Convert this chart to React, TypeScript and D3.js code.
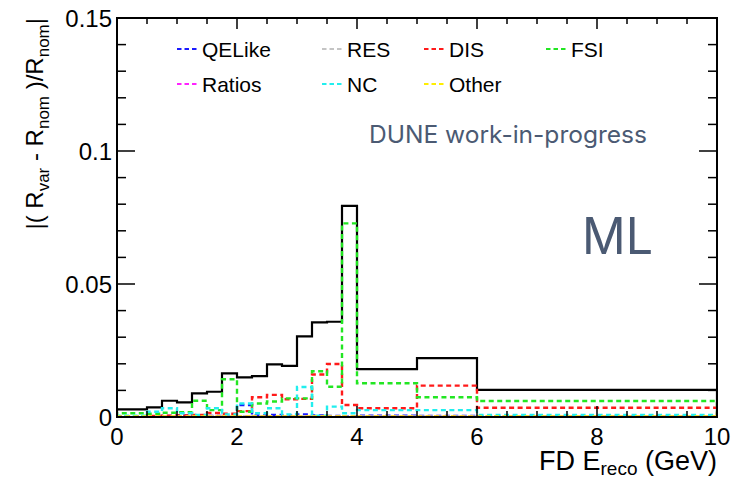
import React from "react";
import * as d3 from "d3";

// Bin edges in reconstructed energy (GeV)
const binEdges = [0, 0.5, 0.75, 1, 1.25, 1.5, 1.75, 2, 2.25, 2.5, 2.75, 3, 3.25, 3.5, 3.75, 4, 5, 6, 10];

// Fractional shift per bin for each interaction-mode category
const totalShift = [0.0029, 0.0036, 0.0061, 0.0055, 0.0089, 0.0095, 0.0164, 0.0149, 0.0154, 0.0198, 0.0192, 0.0303, 0.0356, 0.0358, 0.0794, 0.018, 0.0221, 0.0102];
const qelikeShift = [0.0002, 0.0003, 0.0004, 0.0006, 0.0005, 0.0004, 0.0003, 0.0045, 0.0006, 0.0008, 0.0005, 0.001, 0.0006, 0.0004, 0.0003, 0.0005, 0.0004, 0.0002];
const resShift = [0.0002, 0.0002, 0.0003, 0.0003, 0.0002, 0.0003, 0.0002, 0.0003, 0.0002, 0.0003, 0.0002, 0.0003, 0.0002, 0.0002, 0.0002, 0.0002, 0.0002, 0.0001];
const disShift = [0.0003, 0.0004, 0.0005, 0.0006, 0.0008, 0.0015, 0.0012, 0.0022, 0.0074, 0.0083, 0.0067, 0.0068, 0.016, 0.0199, 0.0045, 0.0033, 0.0118, 0.0035];
const fsiShift = [0.0014, 0.0012, 0.0016, 0.0018, 0.0061, 0.0026, 0.0142, 0.002, 0.0051, 0.0058, 0.007, 0.007, 0.0172, 0.0114, 0.0728, 0.0127, 0.0074, 0.006];
const ratiosShift = [0.0001, 0.0001, 0.0001, 0.0001, 0.0001, 0.0001, 0.0001, 0.0001, 0.0001, 0.0001, 0.0001, 0.0001, 0.0001, 0.0001, 0.0001, 0.0001, 0.0001, 0.0001];
const ncShift = [0.0005, 0.002, 0.0033, 0.0014, 0.0008, 0.0033, 0.001, 0.0051, 0.0014, 0.0033, 0.001, 0.0113, 0.0005, 0.0039, 0.0014, 0.0026, 0.0026, 0.0008];
const otherShift = [0.0002, 0.0002, 0.0002, 0.0002, 0.0002, 0.0002, 0.0002, 0.0002, 0.0002, 0.0002, 0.0002, 0.0002, 0.0002, 0.0002, 0.0002, 0.0002, 0.0002, 0.0002];

const seriesNames = ["QELike", "RES", "DIS", "FSI", "Ratios", "NC", "Other"];
const seriesColors = ["#1a1aff", "#c4c4c4", "#ff1a1a", "#22e622", "#ff22ff", "#22eeee", "#ffee00"];
const seriesValues = [qelikeShift, resShift, disShift, fsiShift, ratiosShift, ncShift, otherShift];

const xTicks = [0, 2, 4, 6, 8, 10];
const yTicks = [0, 0.05, 0.1, 0.15];
const yTickLabels = ["0", "0.05", "0.1", "0.15"];

const W = 732;
const H = 478;
const frame = { left: 117, right: 717, top: 18, bottom: 417 };

const x = d3.scaleLinear().domain([0, 10]).range([frame.left, frame.right]);
const y = d3.scaleLinear().domain([0, 0.15]).range([frame.bottom, frame.top]);

function stepPath(values: number[]): string {
  const pts: [number, number][] = [[binEdges[0], 0]];
  values.forEach((v, i) => {
    pts.push([binEdges[i], v]);
    pts.push([binEdges[i + 1], v]);
  });
  pts.push([binEdges[binEdges.length - 1], 0]);
  const line = d3
    .line<[number, number]>()
    .x((d) => x(d[0]))
    .y((d) => y(d[1]));
  return line(pts) || "";
}

const FONT = "'Liberation Sans', Arial, Helvetica, sans-serif";

export default function App() {
  const xMinor = d3.range(0, 10.001, 0.5);
  const yMinor = d3.range(0, 0.1501, 0.01);

  // legend layout: 4 columns, 2 rows
  const legendCols = [177, 322, 424, 546];
  const legendRows = [57, 92];

  return (
    <svg width={W} height={H} style={{ display: "block", position: "absolute", left: 0, top: 0 }}>
      <rect width={W} height={H} fill="#fff" />
      <defs>
        <clipPath id="plotArea">
          <rect x={frame.left} y={frame.top} width={frame.right - frame.left} height={frame.bottom - frame.top + 2} />
        </clipPath>
      </defs>

      {/* histograms */}
      <g clipPath="url(#plotArea)">
        <path d={stepPath(totalShift)} fill="none" stroke="#000" strokeWidth={2.2} />
        {seriesValues.map((vals, i) => (
          <path
            key={seriesNames[i]}
            d={stepPath(vals)}
            fill="none"
            stroke={seriesColors[i]}
            strokeWidth={2.4}
            strokeDasharray="5 3.5"
          />
        ))}
      </g>

      {/* frame */}
      <rect
        x={frame.left}
        y={frame.top}
        width={frame.right - frame.left}
        height={frame.bottom - frame.top}
        fill="none"
        stroke="#000"
        strokeWidth={2}
      />

      {/* x ticks (bottom & top) */}
      {xMinor.map((v) => {
        const major = Math.abs(v - Math.round(v / 2) * 2) < 1e-6;
        const len = major ? 11 : 6;
        return (
          <g key={"xt" + v} stroke="#000" strokeWidth={1.5}>
            <line x1={x(v)} x2={x(v)} y1={frame.bottom} y2={frame.bottom - len} />
            <line x1={x(v)} x2={x(v)} y1={frame.top} y2={frame.top + len} />
          </g>
        );
      })}
      {/* y ticks (left & right) */}
      {yMinor.map((v) => {
        const major = Math.abs(v * 20 - Math.round(v * 20)) < 1e-6;
        const len = major ? 18 : 9;
        return (
          <g key={"yt" + v} stroke="#000" strokeWidth={1.5}>
            <line x1={frame.left} x2={frame.left + len} y1={y(v)} y2={y(v)} />
            <line x1={frame.right} x2={frame.right - len} y1={y(v)} y2={y(v)} />
          </g>
        );
      })}

      {/* tick labels */}
      {xTicks.map((v) => (
        <text key={"xl" + v} x={x(v)} y={445} textAnchor="middle" fontFamily={FONT} fontSize={24} fill="#000">
          {v}
        </text>
      ))}
      {yTicks.map((v, i) => (
        <text key={"yl" + v} x={112} y={y(v) + 9} textAnchor="end" fontFamily={FONT} fontSize={24} fill="#000">
          {yTickLabels[i]}
        </text>
      ))}

      {/* axis titles */}
      <text x={frame.right} y={470} textAnchor="end" fontFamily={FONT} fontSize={27} fill="#000">
        FD E
        <tspan fontSize={19} dy={5}>reco</tspan>
        <tspan dy={-5}> (GeV)</tspan>
      </text>
      <text
        transform={`translate(43, ${frame.top}) rotate(-90)`}
        textAnchor="end"
        fontFamily={FONT}
        fontSize={24}
        fill="#000"
      >
        |( R
        <tspan fontSize={17} dy={6}>var</tspan>
        <tspan dy={-6}> - R</tspan>
        <tspan fontSize={17} dy={6}>nom</tspan>
        <tspan dy={-6}> )/R</tspan>
        <tspan fontSize={17} dy={6}>nom</tspan>
        <tspan dy={-6}>|</tspan>
      </text>

      {/* legend */}
      {seriesNames.map((name, i) => {
        const col = name === "FSI" ? 3 : i < 3 ? i : i - 4;
        const row = name === "FSI" ? 0 : i < 3 ? 0 : 1;
        const lx = legendCols[col];
        const ly = legendRows[row];
        return (
          <g key={"lg" + name}>
            <line
              x1={lx}
              x2={lx + 21}
              y1={ly - 8}
              y2={ly - 8}
              stroke={seriesColors[i]}
              strokeWidth={2}
              strokeDasharray="4.5 3"
            />
            <text x={lx + 25} y={ly} fontFamily={FONT} fontSize={21} fill="#000">
              {name}
            </text>
          </g>
        );
      })}

      {/* annotations */}
      <text
        x={369}
        y={143}
        fontFamily="Inter, 'Open Sans', sans-serif"
        fontSize={24}
        fill="#4b5a73"
        textLength={278}
        lengthAdjust="spacingAndGlyphs"
      >
        DUNE work-in-progress
      </text>
      <text
        x={582}
        y={254}
        fontFamily="Inter, 'Open Sans', sans-serif"
        fontSize={50}
        fill="#4b5a73"
        textLength={71}
        lengthAdjust="spacingAndGlyphs"
      >
        ML
      </text>
    </svg>
  );
}
